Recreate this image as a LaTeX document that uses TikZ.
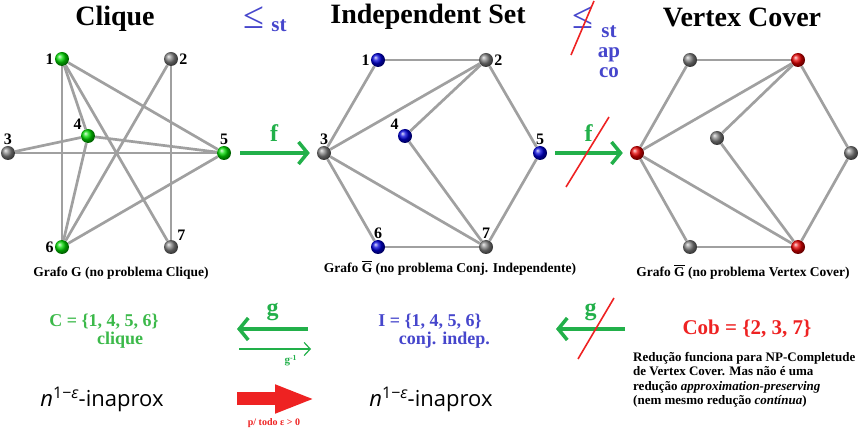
\documentclass[tikz,border=0pt]{standalone}
\usepackage{fontspec}
\setmainfont{Liberation Serif}
\setsansfont{Open Sans}
\usetikzlibrary{arrows.meta, positioning}
\definecolor{edgegray}{HTML}{A0A0A0}
\definecolor{arrowgreen}{HTML}{22B04A}
\definecolor{textgreen}{HTML}{3CB94A}
\definecolor{setblue}{HTML}{4646CC}
\definecolor{cutred}{HTML}{EE2222}
\tikzset{
  vtx/.style={circle, inner sep=0pt, minimum size=14pt, shading=ball},
  vgray/.style={vtx, ball color=gray},
  vgreen/.style={vtx, ball color=green!85!black},
  vblue/.style={vtx, ball color=blue!85!black},
  vred/.style={vtx, ball color=red!90!black},
  edge/.style={draw=edgegray, line width=2.7pt},
  num/.style={font=\fontsize{16}{16}\selectfont\bfseries, inner sep=1pt},
  titletext/.style={font=\fontsize{28}{30}\selectfont\bfseries},
  caption/.style={font=\fontsize{13.5}{14}\selectfont\bfseries},
  maplink/.style={-{Straight Barb[length=9pt, width=22pt, line width=3.5pt]}, line width=3.5pt, arrowgreen},
  thinlink/.style={-{Straight Barb[length=6pt, width=13pt]}, line width=1.2pt, arrowgreen},
  maplabel/.style={font=\fontsize{24}{24}\selectfont\bfseries, text=arrowgreen},
  cut/.style={draw=cutred, line width=1.6pt},
  settext/.style={font=\fontsize{18}{18}\selectfont\bfseries},
  inaprox/.style={font=\sffamily\fontsize{22}{22}\selectfont},
  leqsign/.style={text=setblue, inner sep=0pt, font=\fontsize{38}{38}\selectfont},
}
\begin{document}
\begin{tikzpicture}[x=1pt, y=-1pt]
  \useasboundingbox (0,0) rectangle (860,430);

  % ---- Titles ----
  \node[titletext] (tclique) at (115,19) {Clique};
  \node[titletext] (tindep) at (428,17) {Independent Set};
  \node[titletext] (tcover) at (742,17) {Vertex Cover};
  \node[leqsign] (leqa) at (254,18) {≤};
  \node[text=setblue, font=\fontsize{21}{21}\selectfont\bfseries] (sta) at (279,26) {st};
  \node[leqsign] (leqb) at (583,18) {≤};
  \node[text=setblue, font=\fontsize{21}{20}\selectfont\bfseries, align=center] (stb) at (609,52) {st\\ap\\co};

  % ---- Clique graph ----
  \foreach \n/\x/\y/\s/\p in {1/62/59/vgreen/left, 2/171/59/vgray/right, 3/8/153/vgray/above,
      4/88/136/vgreen/above left, 5/224/153/vgreen/above, 6/62/247/vgreen/left, 7/171/247/vgray/above right}
    \node[\s, label={[num]\p:\n}] (c\n) at (\x,\y) {};
  \foreach \a/\b in {1/4, 1/5, 1/6, 1/7, 2/6, 2/7, 3/4, 3/5, 4/5, 4/6, 5/6}
    \draw[edge] (c\a) -- (c\b);

  % ---- Independent set graph ----
  \foreach \n/\x/\y/\s/\p in {1/378/60/vblue/left, 2/486/60/vgray/right, 3/324/153/vgray/above,
      4/405/136/vblue/above left, 5/540/153/vblue/above, 6/378/247/vblue/above, 7/486/247/vgray/above}
    \node[\s, label={[num]\p:\n}] (s\n) at (\x,\y) {};
  \foreach \a/\b in {1/2, 1/3, 2/3, 2/4, 2/5, 3/6, 3/7, 4/7, 5/7, 6/7}
    \draw[edge] (s\a) -- (s\b);

  % ---- Vertex cover graph ----
  \foreach \n/\x/\y/\s in {1/690/60/vgray, 2/798/60/vred, 3/637/153/vred,
      4/717/138/vgray, 5/851/153/vgray, 6/690/247/vgray, 7/798/247/vred}
    \node[\s] (v\n) at (\x,\y) {};
  \foreach \a/\b in {1/2, 1/3, 2/3, 2/4, 2/5, 3/6, 3/7, 4/7, 5/7, 6/7}
    \draw[edge] (v\a) -- (v\b);

  % ---- Captions ----
  \node[caption] (capc) at (121,273) {Grafo G (no problema Clique)};
  \node[caption] (caps) at (450,268) {Grafo $\overline{\textbf{G}}$ (no problema Conj. Independente)};
  \node[caption] (capv) at (743,272) {Grafo $\overline{\textbf{G}}$ (no problema Vertex Cover)};

  % ---- Reductions f ----
  \draw[maplink, shorten <=9pt, shorten >=7pt] (c5) -- node[maplabel, above=6pt] {f} (s3);
  \draw[maplink, shorten <=8pt, shorten >=7pt] (s5) -- node[maplabel, above=6pt] {f} (v3);

  % ---- Solutions ----
  \node[settext, text=textgreen, align=center] (cset) at (104,331)
    {C = \{1, 4, 5, 6\}\\\hspace*{1.8em}clique};
  \node[settext, text=setblue, align=center] (iset) at (430,331)
    {I = \{1, 4, 5, 6\}\\\hspace*{1.6em}conj. indep.};
  \node[font=\fontsize{21}{21}\selectfont\bfseries, text=cutred] (cob) at (747,329) {Cob = \{2, 3, 7\}};
  \node[font=\fontsize{13}{14.5}\selectfont\bfseries, align=left, anchor=north west, inner sep=0pt] (note) at (633,352)
    {Redução funciona para NP-Completude\\de Vertex Cover. Mas não é uma\\redução \textit{approximation-preserving}\\(nem mesmo redução \textit{contínua})};

  % ---- Reductions g ----
  \coordinate (ga) at (308,329);
  \coordinate (gb) at (237,329);
  \draw[maplink] (ga) -- node[maplabel, above=3pt] {g} (gb);
  \coordinate (gia) at (239,349);
  \coordinate (gib) at (311,349);
  \draw[thinlink] (gia) -- node[below=2pt, pos=0.72, font=\fontsize{11}{11}\selectfont\bfseries, text=arrowgreen] {g\textsuperscript{-1}} (gib);
  \coordinate (gc) at (625,329);
  \coordinate (gd) at (556,329);
  \draw[maplink] (gc) -- node[maplabel, above=3pt] {g} (gd);

  % ---- Inapproximability ----
  \node[inaprox] (inc) at (102,399) {\textit{n}\raisebox{8pt}{\fontsize{16}{16}\selectfont 1−\textit{ε}}-inaprox};
  \node[inaprox] (ins) at (431,399) {\textit{n}\raisebox{8pt}{\fontsize{16}{16}\selectfont 1−\textit{ε}}-inaprox};
  \coordinate (ra) at (237,399);
  \coordinate (rb) at (315,399);
  \draw[cutred, line width=13pt, -{Triangle[length=40pt, width=26pt]}] (ra) -- (rb);
  \node[font=\fontsize{10}{10}\selectfont\bfseries, text=cutred] (forall) at (274,423) {p/ todo ε > 0};

  % ---- Cuts ----
  \coordinate (k1a) at (571,55);
  \coordinate (k1b) at (594,1);
  \draw[cut] (k1a) -- (k1b);
  \coordinate (k2a) at (566,187);
  \coordinate (k2b) at (609,117);
  \draw[cut] (k2a) -- (k2b);
  \coordinate (k3a) at (578,359);
  \coordinate (k3b) at (614,298);
  \draw[cut] (k3a) -- (k3b);
\end{tikzpicture}
\end{document}
